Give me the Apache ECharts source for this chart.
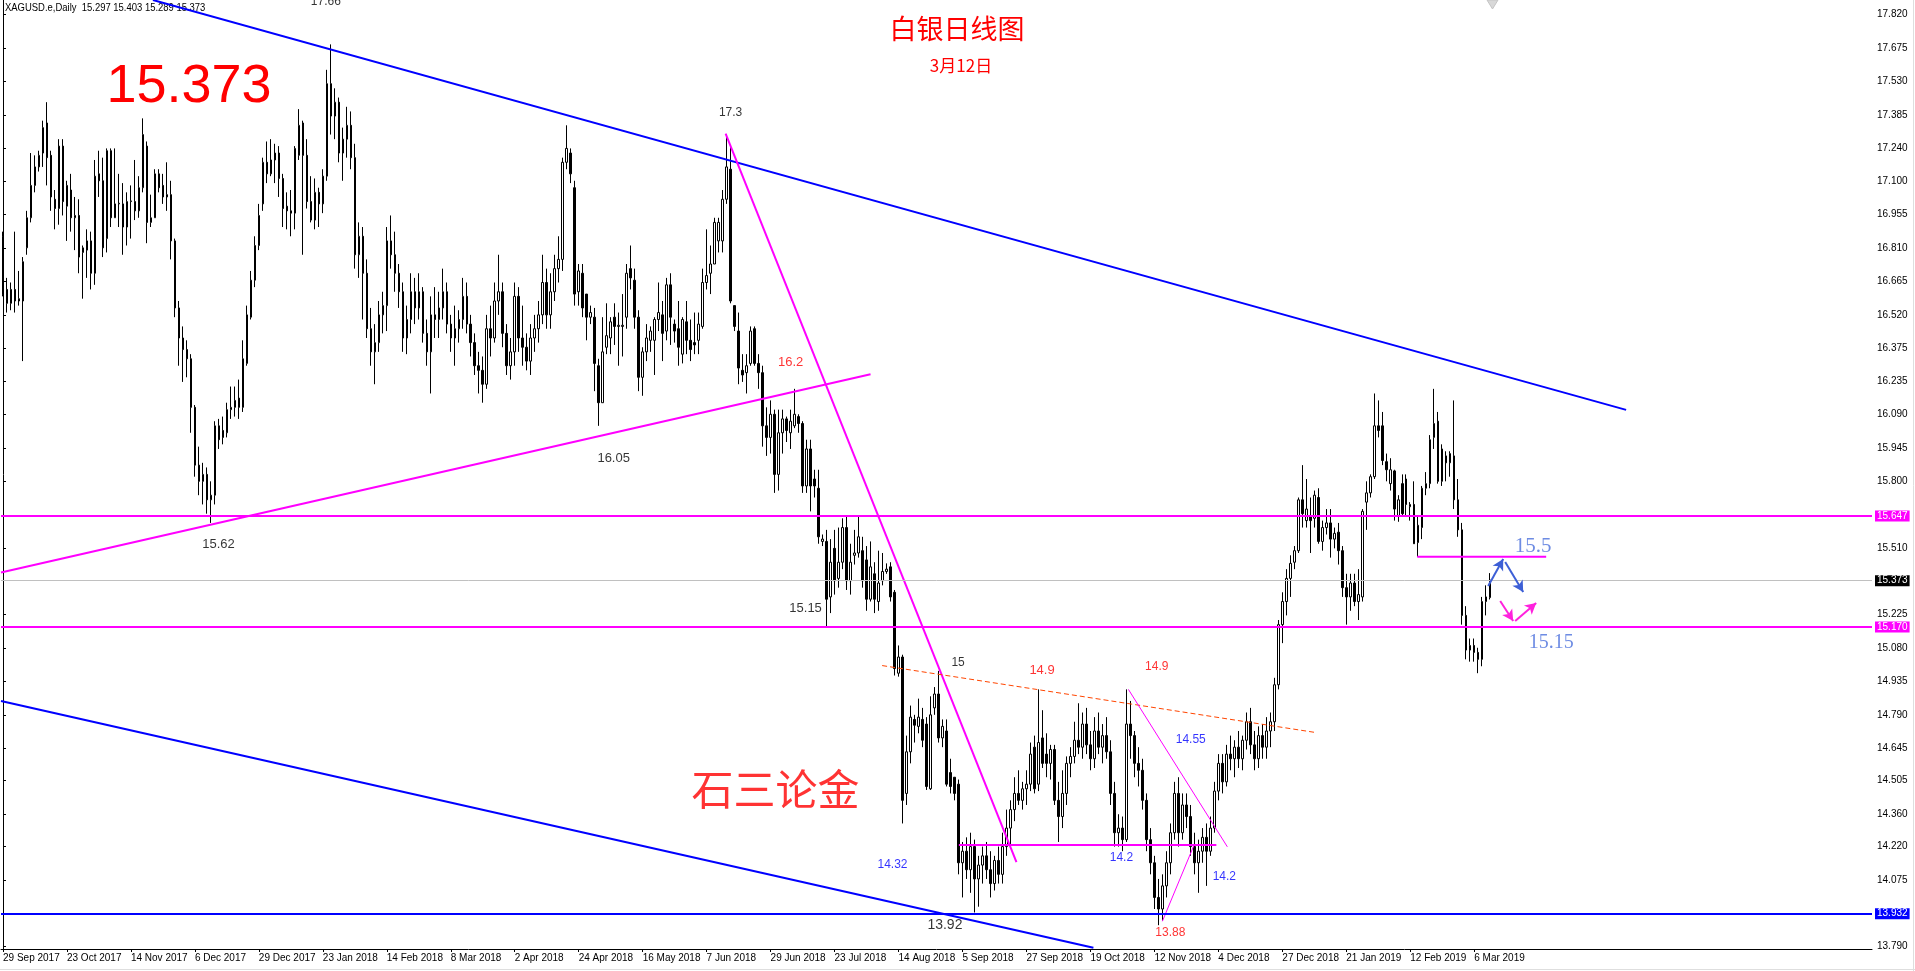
<!DOCTYPE html>
<html><head><meta charset="utf-8">
<script src="https://cdn.jsdelivr.net/npm/echarts@6/dist/echarts.min.js"></script>
<style>html,body{margin:0;padding:0;background:#fff;overflow:hidden}#c{width:1915px;height:971px}</style>
</head><body><div id="c"></div>
<script>
// ---- data: daily candles [open, high, low, close], first bar = 29 Sep 2017 ----
const ohlc = [
[16.86,16.88,16.60,16.61],[16.63,16.68,16.53,16.57],[16.57,16.66,16.54,16.63],[16.63,16.88,16.53,16.58],[16.58,16.71,16.56,16.59],
[16.58,16.77,16.32,16.75],[16.81,16.97,16.78,16.94],[16.94,17.22,16.92,17.08],[17.08,17.21,17.05,17.16],[17.16,17.23,17.14,17.21],
[17.22,17.36,17.16,17.33],[17.35,17.44,17.08,17.20],[17.21,17.23,16.97,17.03],[17.02,17.06,16.89,16.98],[16.98,17.28,16.91,17.25],
[17.25,17.28,16.95,17.01],[16.99,17.10,16.84,17.08],[17.06,17.13,16.88,16.94],[16.94,17.03,16.80,16.95],[16.95,17.02,16.70,16.77],
[16.79,16.82,16.59,16.81],[16.80,16.89,16.68,16.84],[16.84,16.88,16.63,16.70],[16.70,17.19,16.65,17.12],[17.13,17.23,17.03,17.10],
[17.10,17.20,16.77,16.81],[16.85,17.24,16.79,17.23],[17.23,17.24,16.90,16.94],[16.94,17.24,16.94,17.00],[17.00,17.13,16.90,17.003],
[17.00,17.09,16.78,16.90],[16.90,17.05,16.82,17.01],[17.01,17.08,16.85,17.013],[17.01,17.19,16.93,16.97],[16.97,17.12,16.94,17.07],
[17.07,17.37,17.05,17.30],[17.25,17.27,16.83,16.92],[16.92,17.04,16.90,16.94],[16.94,17.15,16.94,17.13],[17.13,17.15,17.05,17.07],
[17.08,17.13,17.00,17.03],[17.03,17.18,16.97,17.04],[17.04,17.10,16.76,16.84],[16.84,16.85,16.51,16.55],[16.55,16.58,16.30,16.42],
[16.42,16.47,16.23,16.37],[16.37,16.41,16.25,16.33],[16.33,16.35,16.01,16.12],[16.12,16.13,15.82,15.87],[15.87,15.95,15.74,15.80],
[15.80,15.88,15.70,15.83],[15.83,15.86,15.66,15.72],[15.72,15.80,15.62,15.74],[15.74,16.06,15.70,16.04],[16.04,16.07,15.94,15.98],
[16.02,16.08,15.96,15.99],[16.01,16.14,15.99,16.11],[16.11,16.21,16.07,16.12],[16.12,16.21,16.08,16.15],[16.16,16.24,16.07,16.12],
[16.12,16.41,16.10,16.33],[16.31,16.56,16.30,16.52],[16.51,16.71,16.50,16.67],[16.67,16.86,16.64,16.82],[16.82,17.00,16.80,16.95],
[17.00,17.20,16.97,17.18],[17.18,17.27,17.09,17.13],[17.13,17.28,17.12,17.19],[17.19,17.26,17.09,17.22],[17.22,17.25,17.03,17.11],
[17.11,17.13,16.90,16.98],[16.99,17.05,16.89,16.97],[16.97,17.06,16.86,16.96],[16.96,17.25,16.89,17.24],[17.21,17.41,17.19,17.34],
[17.35,17.36,16.78,17.21],[17.21,17.28,16.98,17.01],[17.01,17.12,16.92,16.93],[16.93,17.11,16.89,17.05],[17.05,17.07,16.90,17.00],
[17.00,17.15,16.96,17.12],[17.12,17.58,17.10,17.52],[17.52,17.69,17.30,17.38],[17.38,17.50,17.28,17.44],[17.44,17.46,17.18,17.22],
[17.22,17.33,17.10,17.28],[17.28,17.42,17.20,17.34],[17.34,17.40,17.15,17.20],[17.20,17.26,16.72,16.78],[16.78,16.92,16.68,16.86],
[16.86,16.90,16.50,16.70],[16.70,16.76,16.42,16.46],[16.46,16.55,16.30,16.36],[16.36,16.48,16.22,16.40],[16.40,16.58,16.36,16.52],
[16.52,16.62,16.44,16.56],[16.56,16.90,16.45,16.84],[16.84,16.95,16.72,16.78],[16.78,16.88,16.62,16.70],[16.70,16.74,16.55,16.62],
[16.62,16.66,16.36,16.42],[16.42,16.56,16.35,16.50],[16.50,16.70,16.44,16.62],[16.62,16.68,16.48,16.55],[16.55,16.70,16.50,16.62],
[16.62,16.64,16.40,16.44],[16.44,16.50,16.30,16.36],[16.36,16.60,16.18,16.52],[16.52,16.64,16.42,16.50],[16.50,16.62,16.42,16.55],
[16.55,16.72,16.50,16.62],[16.62,16.66,16.44,16.48],[16.48,16.52,16.36,16.42],[16.42,16.56,16.30,16.46],[16.46,16.54,16.40,16.50],
[16.50,16.68,16.46,16.60],[16.60,16.66,16.44,16.48],[16.48,16.52,16.34,16.40],[16.40,16.44,16.26,16.30],[16.30,16.36,16.18,16.28],
[16.28,16.34,16.14,16.22],[16.22,16.52,16.20,16.46],[16.46,16.56,16.34,16.42],[16.42,16.66,16.40,16.58],[16.58,16.78,16.52,16.62],
[16.62,16.66,16.38,16.44],[16.44,16.48,16.26,16.30],[16.30,16.42,16.24,16.36],[16.36,16.66,16.30,16.60],[16.60,16.64,16.36,16.42],
[16.42,16.56,16.30,16.38],[16.38,16.44,16.28,16.32],[16.32,16.48,16.26,16.42],[16.42,16.52,16.36,16.46],[16.46,16.58,16.40,16.52],
[16.52,16.78,16.48,16.66],[16.66,16.72,16.46,16.52],[16.52,16.70,16.46,16.62],[16.62,16.78,16.58,16.72],[16.72,16.86,16.66,16.76],
[16.76,17.20,16.71,17.18],[17.18,17.34,17.15,17.24],[17.22,17.24,17.09,17.13],[17.07,17.10,16.56,16.61],[16.62,16.74,16.56,16.71],
[16.70,16.74,16.51,16.55],[16.61,16.61,16.41,16.51],[16.51,16.56,16.48,16.53],[16.51,16.55,16.19,16.31],[16.30,16.33,16.04,16.14],
[16.14,16.51,16.14,16.36],[16.38,16.57,16.35,16.43],[16.42,16.51,16.35,16.49],[16.51,16.57,16.39,16.47],[16.47,16.53,16.30,16.475],
[16.47,16.61,16.34,16.475],[16.51,16.74,16.46,16.70],[16.72,16.82,16.63,16.68],[16.67,16.72,16.46,16.51],[16.51,16.54,16.19,16.25],
[16.25,16.38,16.17,16.36],[16.36,16.48,16.32,16.42],[16.41,16.47,16.36,16.45],[16.41,16.51,16.26,16.50],[16.50,16.66,16.45,16.53],
[16.52,16.58,16.32,16.44],[16.45,16.68,16.41,16.65],[16.65,16.70,16.39,16.51],[16.48,16.50,16.40,16.45],[16.46,16.58,16.30,16.38],
[16.35,16.51,16.31,16.50],[16.49,16.58,16.35,16.41],[16.41,16.50,16.32,16.37],[16.40,16.53,16.35,16.39],[16.41,16.53,16.35,16.48],
[16.47,16.72,16.46,16.66],[16.66,16.89,16.63,16.69],[16.70,16.82,16.61,16.74],[16.74,16.94,16.74,16.92],[16.84,16.94,16.79,16.92],
[16.84,17.06,16.79,17.02],[17.02,17.30,17.00,17.16],[17.15,17.25,16.57,16.58],[16.56,16.56,16.45,16.47],[16.45,16.53,16.22,16.29],
[16.28,16.35,16.23,16.26],[16.27,16.35,16.18,16.30],[16.31,16.47,16.30,16.45],[16.46,16.47,16.30,16.31],[16.31,16.35,16.20,16.27],
[16.27,16.30,15.95,16.04],[16.04,16.12,15.91,15.99],[15.99,16.15,15.92,16.09],[16.09,16.11,15.75,15.83],[15.83,16.11,15.76,16.01],
[16.01,16.11,15.92,16.07],[16.07,16.08,15.97,16.02],[16.01,16.11,15.94,16.06],[16.04,16.20,16.03,16.09],[16.08,16.09,16.01,16.05],
[16.05,16.06,15.75,15.78],[15.78,15.98,15.75,15.94],[15.94,15.98,15.67,15.78],[15.81,15.85,15.73,15.78],[15.77,15.85,15.53,15.56],
[15.54,15.57,15.52,15.55],[15.54,15.59,15.17,15.29],[15.30,15.55,15.23,15.45],[15.51,15.59,15.31,15.37],[15.38,15.60,15.34,15.45],
[15.45,15.64,15.42,15.60],[15.60,15.65,15.33,15.37],[15.37,15.53,15.31,15.45],[15.48,15.59,15.44,15.49],[15.49,15.65,15.47,15.56],
[15.50,15.56,15.34,15.37],[15.46,15.52,15.24,15.29],[15.29,15.54,15.28,15.43],[15.40,15.45,15.23,15.29],[15.28,15.50,15.24,15.36],
[15.37,15.49,15.35,15.41],[15.41,15.445,15.40,15.42],[15.43,15.45,15.28,15.30],[15.32,15.33,14.96,14.99],[14.97,15.09,14.955,15.04],
[15.04,15.05,14.32,14.42],[14.45,14.70,14.40,14.63],[14.63,14.83,14.58,14.78],[14.77,14.79,14.67,14.745],[14.74,14.86,14.71,14.78],
[14.77,14.82,14.65,14.68],[14.75,14.78,14.465,14.48],[14.47,14.87,14.465,14.79],[14.82,14.91,14.79,14.88],[14.88,14.98,14.67,14.69],
[14.69,14.77,14.65,14.74],[14.72,14.77,14.48,14.49],[14.54,14.60,14.45,14.48],[14.52,14.52,14.42,14.45],[14.49,14.51,14.10,14.15],
[14.15,14.24,14.00,14.20],[14.20,14.26,14.08,14.12],[14.12,14.28,14.02,14.22],[14.22,14.25,13.935,14.08],[14.08,14.18,13.96,14.14],
[14.14,14.22,14.06,14.18],[14.18,14.24,14.08,14.12],[14.12,14.20,14.00,14.06],[14.06,14.18,14.03,14.16],[14.16,14.22,14.06,14.10],
[14.10,14.28,14.06,14.22],[14.22,14.38,14.18,14.30],[14.30,14.42,14.22,14.38],[14.38,14.52,14.33,14.45],[14.45,14.55,14.40,14.42],
[14.42,14.50,14.38,14.47],[14.47,14.55,14.40,14.49],[14.49,14.67,14.46,14.62],[14.65,14.70,14.45,14.47],[14.49,14.90,14.46,14.67],
[14.69,14.81,14.56,14.58],[14.62,14.71,14.52,14.58],[14.58,14.66,14.51,14.64],[14.64,14.66,14.40,14.42],[14.42,14.50,14.24,14.35],
[14.35,14.55,14.30,14.45],[14.45,14.61,14.40,14.58],[14.58,14.65,14.52,14.61],[14.61,14.76,14.58,14.68],[14.68,14.84,14.62,14.65],
[14.65,14.80,14.60,14.75],[14.75,14.82,14.62,14.66],[14.66,14.72,14.55,14.60],[14.60,14.78,14.56,14.72],[14.72,14.80,14.62,14.65],
[14.65,14.75,14.58,14.70],[14.70,14.78,14.60,14.63],[14.63,14.68,14.40,14.45],[14.45,14.50,14.22,14.28],[14.28,14.36,14.22,14.30],
[14.30,14.35,14.20,14.25],[14.25,14.90,14.24,14.75],[14.75,14.85,14.60,14.70],[14.70,14.72,14.52,14.58],[14.58,14.65,14.48,14.55],
[14.55,14.60,14.38,14.42],[14.42,14.45,14.20,14.25],[14.25,14.30,14.10,14.15],[14.15,14.18,13.95,14.00],[14.00,14.08,13.88,13.95],
[13.95,14.10,13.90,14.05],[14.05,14.20,14.00,14.15],[14.15,14.32,14.10,14.28],[14.28,14.50,14.25,14.45],[14.45,14.52,14.22,14.28],
[14.28,14.45,14.25,14.40],[14.40,14.45,14.30,14.35],[14.35,14.40,14.18,14.22],[14.22,14.28,14.10,14.15],[14.15,14.25,14.02,14.20],
[14.20,14.30,14.15,14.26],[14.26,14.32,14.05,14.20],[14.20,14.35,14.18,14.30],[14.30,14.50,14.28,14.46],[14.46,14.62,14.42,14.58],
[14.58,14.62,14.45,14.50],[14.50,14.66,14.48,14.62],[14.62,14.70,14.55,14.60],[14.60,14.68,14.52,14.65],[14.65,14.72,14.56,14.60],
[14.60,14.70,14.55,14.68],[14.68,14.80,14.64,14.76],[14.76,14.82,14.62,14.66],[14.66,14.72,14.55,14.60],[14.60,14.74,14.56,14.70],
[14.70,14.75,14.60,14.65],[14.65,14.78,14.60,14.72],[14.72,14.80,14.65,14.76],[14.76,14.95,14.72,14.92],[14.92,15.20,14.90,15.18],
[15.18,15.32,15.10,15.28],[15.28,15.42,15.22,15.38],[15.38,15.48,15.30,15.445],[15.45,15.52,15.42,15.50],[15.50,15.73,15.49,15.72],
[15.72,15.87,15.60,15.66],[15.63,15.81,15.60,15.68],[15.65,15.73,15.49,15.63],[15.64,15.76,15.60,15.74],[15.73,15.77,15.53,15.54],
[15.54,15.63,15.50,15.60],[15.60,15.68,15.57,15.62],[15.62,15.68,15.47,15.55],[15.55,15.60,15.51,15.575],[15.58,15.62,15.44,15.50],
[15.50,15.52,15.30,15.34],[15.34,15.40,15.18,15.30],[15.30,15.40,15.24,15.36],[15.36,15.40,15.26,15.28],[15.28,15.42,15.20,15.31],
[15.30,15.68,15.28,15.67],[15.71,15.80,15.59,15.75],[15.75,15.83,15.73,15.82],[15.82,16.18,15.81,16.04],[16.04,16.15,15.99,16.02],
[16.04,16.10,15.87,15.89],[15.885,15.92,15.80,15.85],[15.79,15.90,15.76,15.85],[15.845,15.85,15.63,15.68],[15.65,15.74,15.625,15.72],
[15.79,15.83,15.65,15.66],[15.81,15.83,15.65,15.70],[15.69,15.71,15.63,15.70],[15.70,15.80,15.53,15.53],[15.535,15.65,15.474,15.61],
[15.60,15.78,15.55,15.77],[15.77,15.84,15.74,15.79],[15.79,16.00,15.77,15.98],[15.99,16.20,15.94,16.05],[16.06,16.10,15.79,15.80],
[15.80,15.96,15.78,15.94],[15.91,15.93,15.80,15.88],[15.88,15.93,15.82,15.92],[15.91,16.15,15.68,15.72],[15.72,15.81,15.56,15.59],
[15.59,15.62,15.18,15.22],[15.22,15.26,15.03,15.07],[15.07,15.12,15.02,15.09],[15.09,15.12,15.02,15.06],[15.06,15.08,14.97,15.03],
[15.03,15.30,15.00,15.28],[15.28,15.35,15.22,15.30],[15.297,15.403,15.289,15.373]
];
const firstDay = '2017-09-29';
const closedDays = ['2017-12-25','2018-01-01','2018-03-30','2018-12-25','2019-01-01'];
const priceTicks = [17.820,17.675,17.530,17.385,17.240,17.100,16.955,16.810,16.665,16.520,16.375,16.235,16.090,15.945,15.800,15.510,15.225,15.080,14.935,14.790,14.645,14.505,14.360,14.220,14.075,13.790];
const levels = [
  {v:15.647, color:'#ff00ff', w:2, box:'#ff00ff'},
  {v:15.373, color:'#c0c0c0', w:1, box:'#000000'},
  {v:15.170, color:'#ff00ff', w:2, box:'#ff00ff'},
  {v:13.932, color:'#0000ff', w:2, box:'#0000ff'}
];
// annotation lines in (bar index, price)
const trendLines = [
  {pts:[[37.5,17.882],[406,16.109]], color:'#0000ff', w:2},
  {pts:[[-0.5,14.850],[272.75,13.782]], color:'#0000ff', w:2},
  {pts:[[-0.5,15.406],[217,16.263]], color:'#ff00ff', w:2},
  {pts:[[180.75,17.304],[253.5,14.153]], color:'#ff00ff', w:2},
  {pts:[[219.9,15.003],[328.5,14.713]], color:'#ff4500', w:1, dash:[5,3]},
  {pts:[[239.1,14.227],[303.5,14.227]], color:'#ff00ff', w:2},
  {pts:[[281.5,14.90],[306.25,14.219]], color:'#ff00ff', w:1},
  {pts:[[290,13.897],[298,14.23]], color:'#ff00ff', w:1},
  {pts:[[353.75,15.474],[386,15.474]], color:'#ff00ff', w:2}
];
const arrows = [
  {a:[371.5,15.347], b:[375.25,15.464], color:'#3d5fd6'},
  {a:[375.75,15.451], b:[380.25,15.321], color:'#3d5fd6'},
  {a:[374.5,15.282], b:[377.75,15.196], color:'#ff22dd'},
  {a:[378.25,15.196], b:[383.5,15.274], color:'#ff22dd'}
];
const notes = [
  [80.75,17.876,'17.66','#000000',12,'sans'],
  [182,17.395,'17.3','#000000',12,'sans'],
  [197,16.316,'16.2','#ff0000',13,'sans'],
  [152.75,15.901,'16.05','#000000',13,'sans'],
  [53.9,15.525,'15.62','#000000',13,'sans'],
  [200.75,15.252,'15.15','#000000',13,'sans'],
  [238.9,15.014,'15','#000000',12,'sans'],
  [259.9,14.982,'14.9','#ff0000',13,'sans'],
  [288.6,14.997,'14.9','#ff0000',12,'sans'],
  [297.1,14.681,'14.55','#0000ff',12,'sans'],
  [222.5,14.140,'14.32','#0000ff',12,'sans'],
  [279.75,14.171,'14.2','#0000ff',12,'sans'],
  [305.5,14.089,'14.2','#0000ff',12,'sans'],
  [235.6,13.881,'13.92','#000000',14,'sans'],
  [292,13.846,'13.88','#ff0000',12,'sans'],
  [382.75,15.520,'15.5','#4a6fdc',21,'serif'],
  [387.25,15.101,'15.15','#4a6fdc',20,'serif'],
  [193.25,14.469,'石三论金','#ff0000',42,'cjk']
];

// ---- build ----
const MON = ['Jan','Feb','Mar','Apr','May','Jun','Jul','Aug','Sep','Oct','Nov','Dec'];
function tradingDays(start, count, skip){
  const out=[]; const d=new Date(start+'T00:00:00Z');
  while(out.length<count){
    const w=d.getUTCDay(), iso=d.toISOString().slice(0,10);
    if(w!==0 && w!==6 && skip.indexOf(iso)<0) out.push(d.getUTCDate()+' '+MON[d.getUTCMonth()]+' '+d.getUTCFullYear());
    d.setUTCDate(d.getUTCDate()+1);
  }
  return out;
}
const dates = tradingDays(firstDay, ohlc.length, closedDays);
const SLOTS = 468;
const cats = dates.concat(Array.from({length:SLOTS-dates.length},(_, k)=>'~'+k));
const SANS = "'Liberation Sans','DejaVu Sans',sans-serif";
const SERIF = "'Liberation Serif','DejaVu Serif',serif";
const CJK = "'Noto Sans CJK SC',sans-serif";
const fam = {sans:SANS, serif:SERIF, cjk:CJK};
const showIdx = (i)=> i%16===0 && i<dates.length;

const series = [];
series.push({
  type:'candlestick', xAxisIndex:0, yAxisIndex:0, barWidth:2, silent:true,
  data: ohlc.map(r=>[r[0], r[3], r[2], r[1]]),
  itemStyle:{color:'#ffffff', color0:'#000000', borderColor:'#000000', borderColor0:'#000000', borderWidth:1},
  z:2
});
series.push({
  type:'line', xAxisIndex:1, yAxisIndex:0, data:[], silent:true, z:3,
  markLine:{silent:true, symbol:['none','none'], animation:false,
    data: levels.map(l=>({yAxis:l.v, lineStyle:{color:l.color, width:l.w, type:'solid'},
      label:{show:true, position:'end', formatter:l.v.toFixed(3), color:'#ffffff', backgroundColor:l.box,
        padding:[1,2,0,2], fontSize:10, fontFamily:SANS, distance:3}}))
  }
});
trendLines.forEach(t=>{
  series.push({type:'line', xAxisIndex:1, yAxisIndex:0, data:t.pts, showSymbol:false, symbol:'none', silent:true, clip:true, z:4,
    lineStyle:{color:t.color, width:t.w, type: t.dash ? t.dash : 'solid'}});
});
series.push({
  type:'line', xAxisIndex:1, yAxisIndex:0, data:[], silent:true, z:5,
  markLine:{silent:true, symbol:['none','arrow'], symbolSize:[9,11], animation:false, label:{show:false},
    data: arrows.map(a=>[{coord:a.a, lineStyle:{color:a.color, width:2, type:'solid'}, itemStyle:{color:a.color}},{coord:a.b}])}
});
series.push({
  type:'scatter', xAxisIndex:1, yAxisIndex:0, symbolSize:0, silent:true, z:6,
  data: notes.map(n=>({value:[n[0],n[1]], label:{show:true, position:'inside', formatter:n[2], color:n[3], fontSize:n[4], fontFamily:fam[n[5]], align:'center', verticalAlign:'middle'}}))
});

const chart = echarts.init(document.getElementById('c'), null, {renderer:'canvas'});
chart.setOption({
  animation:false,
  backgroundColor:'#ffffff',
  grid:{left:0, top:0, width:1872, bottom:22, containLabel:false},
  xAxis:[
    {type:'category', data:cats, boundaryGap:true,
     axisLine:{show:true, lineStyle:{color:'#000', width:1}},
     axisTick:{show:true, alignWithLabel:true, interval:showIdx, length:3, lineStyle:{color:'#000'}},
     axisLabel:{interval:showIdx, formatter:(v,i)=> i<dates.length ? v : '', align:'left', fontSize:10, color:'#000', margin:4, fontFamily:SANS},
     splitLine:{show:false}},
    {type:'value', min:-0.5, max:SLOTS-0.5, show:false}
  ],
  yAxis:[{type:'value', position:'right', min:13.777, max:17.882, scale:true,
    axisLine:{show:true, lineStyle:{color:'#000', width:1}},
    axisTick:{show:true, customValues:priceTicks, length:3, lineStyle:{color:'#000'}},
    axisLabel:{customValues:priceTicks, formatter:v=>v.toFixed(3), fontSize:10, color:'#000', margin:5, fontFamily:SANS},
    splitLine:{show:false}}],
  graphic:[
    {type:'text', x:5, y:2, scaleX:0.86, silent:true, style:{text:'XAGUSD.e,Daily  15.297 15.403 15.289 15.373', fill:'#000', font:"11px 'Liberation Sans','DejaVu Sans',sans-serif"}},
    {type:'text', x:189, y:87, silent:true, style:{text:'15.373', fill:'#ff0000', align:'center', verticalAlign:'middle', font:"54px 'Liberation Sans','DejaVu Sans',sans-serif"}},
    {type:'text', x:957, y:29, silent:true, style:{text:'白银日线图', fill:'#ff0000', align:'center', verticalAlign:'middle', font:"27px 'Noto Sans CJK SC',sans-serif"}},
    {type:'text', x:961, y:66, silent:true, style:{text:'3月12日', fill:'#ff0000', align:'center', verticalAlign:'middle', font:"17px 'Noto Sans CJK SC',sans-serif"}},
    {type:'polygon', silent:true, shape:{points:[[1487,0],[1498,0],[1492.5,9]]}, style:{fill:'#d8d8d8', stroke:'#c4c4c4'}},
    {type:'line', silent:true, shape:{x1:1913.5,y1:0,x2:1913.5,y2:971}, style:{stroke:'#dedede', lineWidth:1}},
    {type:'line', silent:true, shape:{x1:0,y1:969.5,x2:1915,y2:969.5}, style:{stroke:'#dedede', lineWidth:1}}
  ],
  series: series
});
</script>
</body></html>
